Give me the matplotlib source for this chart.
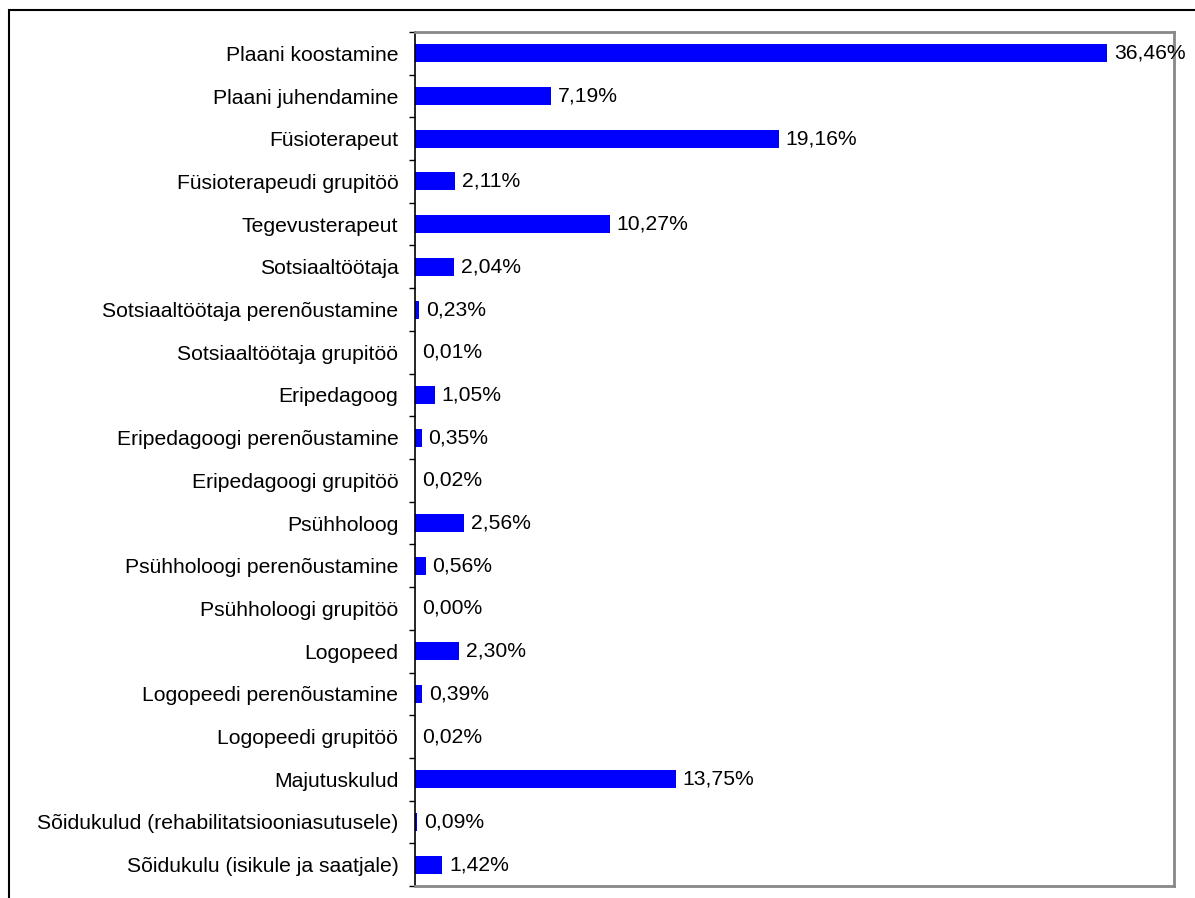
import numpy as np
import matplotlib.pyplot as plt
from matplotlib.patches import Rectangle

# Andmed
categories = [
    'Plaani koostamine',
    'Plaani juhendamine',
    'Füsioterapeut',
    'Füsioterapeudi grupitöö',
    'Tegevusterapeut',
    'Sotsiaaltöötaja',
    'Sotsiaaltöötaja perenõustamine',
    'Sotsiaaltöötaja grupitöö',
    'Eripedagoog',
    'Eripedagoogi perenõustamine',
    'Eripedagoogi grupitöö',
    'Psühholoog',
    'Psühholoogi perenõustamine',
    'Psühholoogi grupitöö',
    'Logopeed',
    'Logopeedi perenõustamine',
    'Logopeedi grupitöö',
    'Majutuskulud',
    'Sõidukulud (rehabilitatsiooniasutusele)',
    'Sõidukulu (isikule ja saatjale)',
]
shares = [36.46, 7.19, 19.16, 2.11, 10.27, 2.04, 0.23, 0.01, 1.05, 0.35,
          0.02, 2.56, 0.56, 0.00, 2.30, 0.39, 0.02, 13.75, 0.09, 1.42]

plt.rcParams['font.family'] = ['Liberation Sans', 'DejaVu Sans']
fs = 15.2

fig = plt.figure(figsize=(11.95, 8.98), dpi=100)
ax = fig.add_axes([415 / 1195, 1 - 886 / 898, 759 / 1195, 854 / 898])

y = np.arange(len(categories))
ax.barh(y, shares, height=0.42, color='#0000ff')

for yi, v in zip(y, shares):
    ax.annotate(f'{v:.2f}%'.replace('.', ','), (v, yi), xytext=(5, 0),
                textcoords='offset points', va='center', ha='left', fontsize=fs)

ax.set_xlim(0, 40)
ax.set_ylim(len(categories) - 0.5, -0.5)
ax.set_xticks([])
ax.set_yticks(y)
ax.set_yticklabels(categories, fontsize=fs)
ax.set_yticks(np.arange(-0.5, len(categories)), minor=True)
ax.tick_params(axis='y', which='major', length=0, pad=12)
ax.tick_params(axis='y', which='minor', length=4, width=1, color='black')

for s in ['top', 'right', 'bottom']:
    ax.spines[s].set_color('#888888')
    ax.spines[s].set_linewidth(2)
ax.spines['left'].set_color('black')
ax.spines['left'].set_linewidth(1.2)

# Välimine raam (paremalt ja alt ära lõigatud)
fig.patches.append(Rectangle((9 / 1195, -0.1), 1.2, 1.1 - 10 / 898, transform=fig.transFigure,
                             fill=False, edgecolor='black', linewidth=1.5))

fig.savefig('out.png', dpi=100)
